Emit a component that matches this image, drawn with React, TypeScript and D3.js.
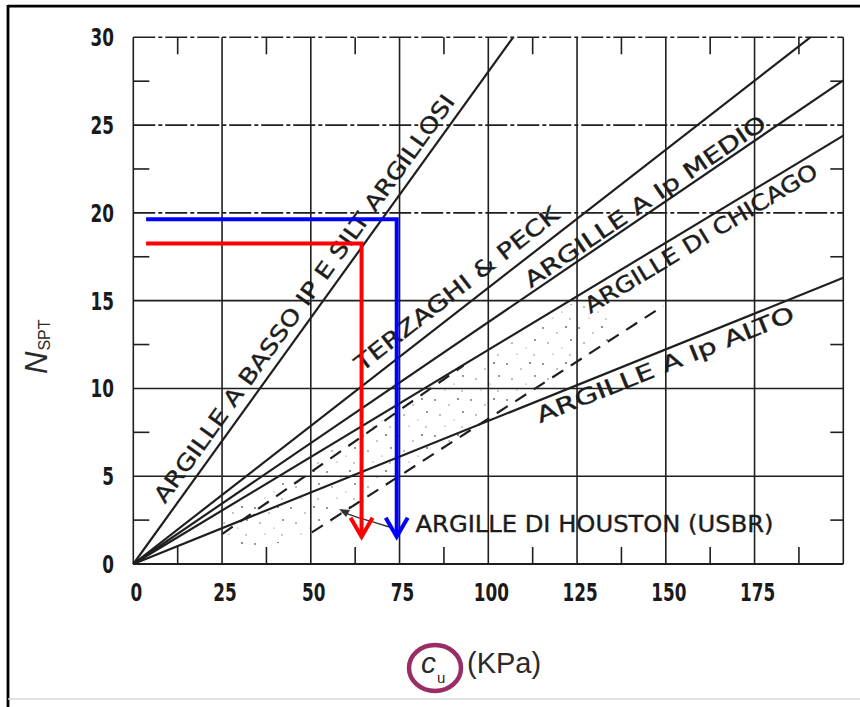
import React from "react";
import * as d3 from "d3";

// ---- data ----
const xTickValues = [0, 25, 50, 75, 100, 125, 150, 175];
const yTickValues = [0, 5, 10, 15, 20, 25, 30];
const xGridValues = [0, 25, 50, 75, 100, 125, 150, 175, 200];
const xMinorTicks = [12.5, 37.5, 62.5, 87.5, 112.5, 137.5, 162.5, 187.5];
const yMinorTicks = [2.5, 7.5, 12.5, 17.5, 22.5, 27.5];

const trendNames = [
  "ARGILLE A BASSO IP E SILT ARGILLOSI",
  "TERZAGHI & PECK",
  "ARGILLE A Ip MEDIO",
  "ARGILLE DI CHICAGO",
  "ARGILLE A Ip ALTO",
];
const trendEndCu = [107, 190.7, 200, 200, 200];
const trendEndN = [30, 30, 27.55, 24.4, 16.3];

const dashedStartCu = [25, 50.3];
const dashedStartN = [1.7, 1.8];
const dashedEndCu = [93, 149.3];
const dashedEndN = [11.3, 14.7];

const stippleCu = [26, 60, 90, 128, 137, 110, 85, 65, 50, 35, 24];
const stippleN = [2.8, 7.0, 10.6, 15.4, 13.0, 9.6, 6.4, 3.7, 1.5, 1.0, 1.3];

const houstonLabel = "ARGILLE DI HOUSTON (USBR)";
const houstonLabelCu = 79.5;
const houstonLabelN = 1.8;
const leaderCu = [58.8, 62, 68.6, 72.3];
const leaderN = [2.96, 2.73, 2.33, 2.1];

const arrowColors = ["#ff0000", "#0000ff"];
const arrowStartCu = [3.6, 3.6];
const arrowCu = [64.3, 74.2];
const arrowN = [18.26, 19.63];
const arrowEndN = [1.55, 1.55];

// ---- layout (styling only) ----
const W = 860;
const H = 707;
const labelStartCu = [11, 66.3, 112.6, 125.5, 112.3];
const labelLen = [497, 252, 287, 268, 276];
const labelOffset = [9, 11, 4, -22, -21.5];
const stippleDots = [
  [3, 4, 0.9], [17, 9, 0.7], [26, 3, 1.0], [8, 19, 0.8], [22, 24, 0.6],
  [31, 16, 0.9], [13, 30, 0.6], [30, 31, 0.7],
];

export default function App() {
  const x = d3.scaleLinear().domain([0, 200]).range([133.3, 843.3]);
  const y = d3.scaleLinear().domain([0, 30]).range([564, 37.3]);
  const ink = "#1f1f1f";
  const tickFont = "'DejaVu Sans Condensed', 'DejaVu Sans', sans-serif";
  const labelFont = "'DejaVu Sans Condensed', 'DejaVu Sans', sans-serif";

  const stipplePts = stippleCu.map((c, i) => [x(c), y(stippleN[i])] as [number, number]);
  const stipplePath = d3.line().curve(d3.curveLinearClosed)(stipplePts) || "";
  const leaderPath =
    d3.line().curve(d3.curveBasis)(leaderCu.map((c, i) => [x(c), y(leaderN[i])] as [number, number])) || "";

  const hGridDash = (v: number) => (v >= 20 ? "22 3 4 3" : undefined);

  return (
    <svg
      width={W}
      height={H}
      style={{ position: "absolute", left: 0, top: 0, background: "#fff" }}
    >
      <defs>
        <pattern id="stip" width={36} height={36} patternUnits="userSpaceOnUse">
          {stippleDots.map((d, i) => (
            <circle key={i} cx={d[0]} cy={d[1]} r={d[2]} fill="#666" />
          ))}
        </pattern>
      </defs>
      <rect x={0} y={0} width={W} height={H} fill="#fff" />

      {/* outer frame */}
      <line x1={8} y1={6.2} x2={W} y2={6.2} stroke="#000" strokeWidth={2.8} />
      <line x1={8} y1={5} x2={8} y2={H} stroke="#000" strokeWidth={2.8} />
      <line x1={8} y1={699} x2={W} y2={699} stroke="#d8d8d8" strokeWidth={1.5} />

      {/* stipple region */}
      <path d={stipplePath} fill="url(#stip)" stroke="none" />

      {/* grid */}
      {xGridValues.map((v) => (
        <line key={"gx" + v} x1={x(v)} x2={x(v)} y1={y(0)} y2={y(30)} stroke={ink} strokeWidth={1.6} />
      ))}
      {yTickValues.map((v) => (
        <line
          key={"gy" + v}
          x1={x(0)}
          x2={x(200)}
          y1={y(v)}
          y2={y(v)}
          stroke={ink}
          strokeWidth={v === 0 ? 2 : 1.6}
          strokeDasharray={hGridDash(v)}
        />
      ))}
      {/* minor ticks */}
      {xMinorTicks.map((v) => (
        <g key={"mx" + v}>
          <line x1={x(v)} x2={x(v)} y1={y(0)} y2={y(0) - 17} stroke={ink} strokeWidth={1.6} />
          <line x1={x(v)} x2={x(v)} y1={y(30)} y2={y(30) + 17} stroke={ink} strokeWidth={1.6} />
        </g>
      ))}
      {yMinorTicks.map((v) => (
        <g key={"my" + v}>
          <line x1={x(0)} x2={x(0) + 16} y1={y(v)} y2={y(v)} stroke={ink} strokeWidth={1.6} />
          <line x1={x(200)} x2={x(200) - 13} y1={y(v)} y2={y(v)} stroke={ink} strokeWidth={1.6} />
        </g>
      ))}

      {/* tick labels */}
      {xTickValues.map((v) => (
        <g key={"tx" + v} transform={`translate(${x(v) + 3},${601}) scale(0.78,1)`}>
          <text textAnchor="middle" fontFamily={tickFont} fontWeight="bold" fontSize={24} fill="#1a1a1a">
            {v}
          </text>
        </g>
      ))}
      {yTickValues.map((v) => (
        <g key={"ty" + v} transform={`translate(${114},${y(v) + 9}) scale(0.78,1)`}>
          <text textAnchor="end" fontFamily={tickFont} fontWeight="bold" fontSize={24} fill="#1a1a1a">
            {v}
          </text>
        </g>
      ))}

      {/* trend lines from origin */}
      {trendNames.map((name, i) => (
        <line
          key={"tl" + i}
          x1={x(0)}
          y1={y(0)}
          x2={x(trendEndCu[i])}
          y2={y(trendEndN[i])}
          stroke={ink}
          strokeWidth={2.2}
        />
      ))}

      {/* dashed lines */}
      {dashedStartCu.map((c, i) => (
        <line
          key={"dl" + i}
          x1={x(c)}
          y1={y(dashedStartN[i])}
          x2={x(dashedEndCu[i])}
          y2={y(dashedEndN[i])}
          stroke={ink}
          strokeWidth={2.2}
          strokeDasharray="13 9"
        />
      ))}

      {/* line labels */}
      {trendNames.map((name, i) => {
        const m = trendEndN[i] / trendEndCu[i];
        const dx = x(1) - x(0);
        const dy = y(0) - y(m);
        const a = Math.atan2(dy, dx);
        const c0 = labelStartCu[i];
        const px = x(c0) - Math.sin(a) * labelOffset[i];
        const py = y(m * c0) - Math.cos(a) * labelOffset[i];
        return (
          <text
            key={"lb" + i}
            transform={`translate(${px},${py}) rotate(${(-a * 180) / Math.PI})`}
            fontFamily={labelFont}
            fontSize={22}
            fill="#1c1c1c"
            stroke="#1c1c1c"
            strokeWidth={0.35}
            textLength={labelLen[i]}
            lengthAdjust="spacingAndGlyphs"
          >
            {name}
          </text>
        );
      })}

      {/* Houston label + leader */}
      <text
        x={x(houstonLabelCu)}
        y={y(houstonLabelN)}
        fontFamily={labelFont}
        fontSize={23}
        fill="#1c1c1c"
        stroke="#1c1c1c"
        strokeWidth={0.35}
        textLength={358}
        lengthAdjust="spacingAndGlyphs"
      >
        {houstonLabel}
      </text>
      <path d={leaderPath} fill="none" stroke="#333" strokeWidth={1.4} />
      <path
        d={`M${x(leaderCu[0]) - 3},${y(leaderN[0]) - 3} l11,1 l-4,7 z`}
        fill="#333"
      />

      {/* highlighted arrows */}
      {arrowCu.map((c, i) => {
        const tx = x(c);
        const ty = y(arrowEndN[i]);
        return (
          <g key={"ar" + i} stroke={arrowColors[i]} strokeWidth={4} fill="none">
            <path d={`M${x(arrowStartCu[i])},${y(arrowN[i])} H${tx} V${ty}`} strokeLinejoin="miter" />
            <path d={`M${tx - 11},${ty - 19} L${tx},${ty} L${tx + 11},${ty - 19}`} strokeLinejoin="miter" />
          </g>
        );
      })}

      {/* axis titles */}
      <text
        transform="translate(47,374) rotate(-90)"
        fontFamily="'Liberation Sans', Arial, sans-serif"
        fill="#2a2a2a"
      >
        <tspan fontSize={31} fontStyle="italic">N</tspan>
        <tspan fontSize={16} dy={3} dx={1}>SPT</tspan>
      </text>

      <text x={421} y={673} fontFamily="'Liberation Sans', Arial, sans-serif" fill="#2a2a2a">
        <tspan fontSize={30} fontStyle="italic">c</tspan>
        <tspan fontSize={15} dy={10} dx={1}>u</tspan>
      </text>
      <text x={467} y={673} fontFamily="'Liberation Sans', Arial, sans-serif" fontSize={29} fill="#2a2a2a">
        (KPa)
      </text>
      <ellipse cx={435} cy={668} rx={26} ry={23} fill="none" stroke="#9b2d66" strokeWidth={4.5} />
    </svg>
  );
}
